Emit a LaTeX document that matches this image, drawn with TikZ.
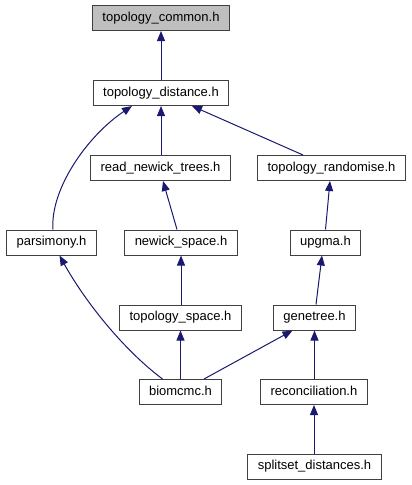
\documentclass[tikz,border=0pt]{standalone}
\usepackage{fontspec}
\setmainfont{Liberation Sans}
\usetikzlibrary{
  arrows.meta,
  positioning,
}
\definecolor{edgecol}{RGB}{25,25,112}
\definecolor{boxline}{RGB}{64,64,64}
\definecolor{rootfill}{RGB}{191,191,191}
\tikzset{
  filenode/.style={
    rectangle, draw=boxline, line width=1pt, fill=white,
    minimum height=25pt, inner xsep=10pt, inner ysep=0pt,
    font=\fontsize{13}{15}\selectfont,
    text height=9.5pt, text depth=2.8pt
  },
  rootnode/.style={filenode, fill=rootfill},
  incarrow/.style={
    line width=1pt, draw=edgecol,
    -{Triangle[length=10pt,width=8pt,fill=edgecol]}
  },
}

\begin{document}
\begin{tikzpicture}[x=1pt,y=1pt]

  \useasboundingbox (0,0) rectangle (412,-485);

  % ── Files ──
  \node[rootnode] (common)   at (161,-18)    {topology\_common.h};
  \node[filenode] (distance) at (161,-93)    {topology\_distance.h};
  \node[filenode] (readnwk)  at (160.5,-168) {read\_newick\_trees.h};
  \node[filenode] (random)   at (331.5,-168) {topology\_randomise.h};
  \node[filenode] (parsim)   at (51.5,-242.5)  {parsimony.h};
  \node[filenode] (nwkspace) at (181,-242.5)   {newick\_space.h};
  \node[filenode] (upgma)    at (325.5,-242.5) {upgma.h};
  \node[filenode] (topspace) at (180.5,-317.5) {topology\_space.h};
  \node[filenode] (genetree) at (314.5,-317.5) {genetree.h};
  \node[filenode] (biomcmc)  at (180.5,-392)   {biomcmc.h};
  \node[filenode] (reconc)   at (314,-392)     {reconciliation.h};
  \node[filenode] (splitset) at (314.5,-466.5) {splitset\_distances.h};

  % ── Includes ──
  \draw[incarrow] (distance.north) -- (common.south);
  \draw[incarrow] (readnwk.north -| distance.south) -- (distance.south);
  \draw[incarrow] ([xshift=1.5pt]parsim.north)
    .. controls ++(-3,40) and ++(-45,-30) .. ([xshift=-29pt]distance.south);
  \draw[incarrow] ([xshift=-28.5pt]random.north) -- ([xshift=31pt]distance.south);
  \draw[incarrow] ([xshift=-4pt]nwkspace.north) -- ([xshift=2.5pt]readnwk.south);
  \draw[incarrow] (upgma.north) -- ([xshift=-1.5pt]random.south);
  \draw[incarrow] (topspace.north -| nwkspace.south) -- (nwkspace.south);
  \draw[incarrow] ([xshift=1.5pt]genetree.north) -- ([xshift=-3.5pt]upgma.south);
  \draw[incarrow] ([xshift=-18pt]biomcmc.north)
    .. controls ++(-40,30) and ++(25,-45) .. ([xshift=8pt]parsim.south);
  \draw[incarrow] (biomcmc.north) -- (topspace.south);
  \draw[incarrow] ([xshift=23.5pt]biomcmc.north) -- ([xshift=-22pt]genetree.south);
  \draw[incarrow] (reconc.north -| genetree.south) -- (genetree.south);
  \draw[incarrow] (splitset.north -| reconc.south) -- (reconc.south);

\end{tikzpicture}
\end{document}
